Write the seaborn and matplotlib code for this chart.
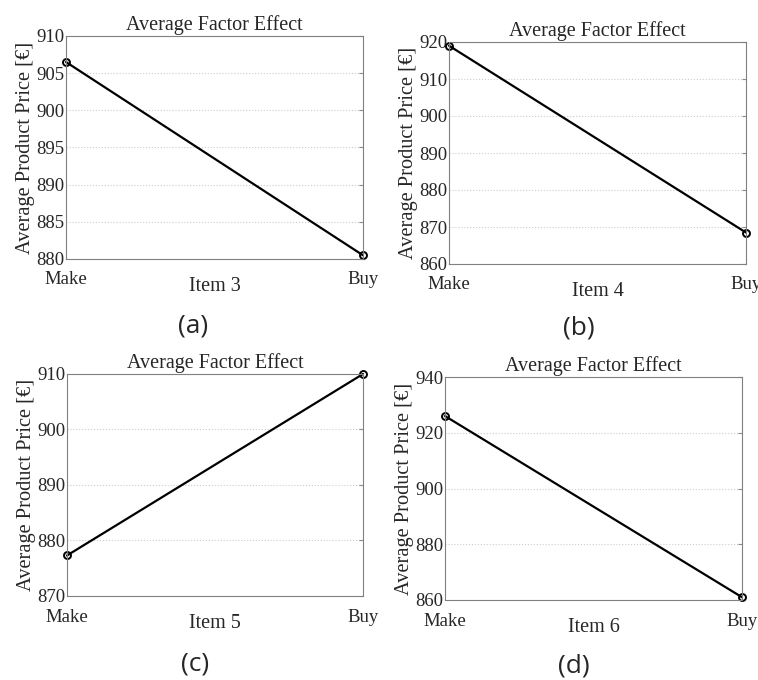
import numpy as np
import pandas as pd
import matplotlib
matplotlib.use("Agg")
import matplotlib.pyplot as plt
import seaborn as sns

#%% data
levels = ["Make", "Buy"]
items = ["Item 3", "Item 4", "Item 5", "Item 6"]
price_item3 = [906.5, 880.5]
price_item4 = [919.0, 868.5]
price_item5 = [877.3, 910.0]
price_item6 = [926.0, 861.0]
ylims = [(880, 910), (860, 920), (870, 910), (860, 940)]
yticks = [np.arange(880, 911, 5), np.arange(860, 921, 10),
          np.arange(870, 911, 10), np.arange(860, 941, 20)]
captions = ["(a)", "(b)", "(c)", "(d)"]

#%%
sns.set_style("white")
plt.rcParams['font.family'] = ['Liberation Serif', 'DejaVu Serif']

fig = plt.figure(figsize=(7.58, 6.8), dpi=100)

# axes boxes in pixels: left, top, right, bottom
boxes = [(66, 36, 363, 259), (449, 42, 746, 264),
         (67, 374, 363, 596), (445, 377, 742, 600)]
cap_pos = [(193, 326), (579, 328), (195, 664), (574, 666)]
series = [price_item3, price_item4, price_item5, price_item6]

for i in range(4):
    l, t, r, b = boxes[i]
    ax = fig.add_axes([l / 758, 1 - b / 680, (r - l) / 758, (b - t) / 680])
    df = pd.DataFrame({"x": [1, 2], "price": series[i]})
    sns.lineplot(data=df, x="x", y="price", ax=ax, color="black", lw=1.6,
                 marker="o", markersize=5, markerfacecolor="none",
                 markeredgecolor="black", markeredgewidth=1.4, clip_on=False)
    ax.set_xlim(1, 2)
    ax.set_ylim(*ylims[i])
    ax.set_xticks([1, 2])
    ax.set_xticklabels(levels, fontsize=13.5)
    ax.set_yticks(yticks[i])
    ax.tick_params(axis="y", labelsize=13.5, direction="in", length=3,
                   color="0.55", right=True, pad=1)
    ax.tick_params(axis="x", direction="in", length=0, pad=9)
    ax.grid(axis="y", linestyle=":", color="0.8", lw=0.8)
    for s in ax.spines.values():
        s.set_color("0.5")
        s.set_linewidth(0.8)
    ax.set_title("Average Factor Effect", fontsize=14.5, pad=4)
    ax.set_xlabel(items[i], fontsize=14.5, labelpad=-8)
    ax.set_ylabel("Average Product Price [€]", fontsize=14.7, labelpad=1)
    cx, cy = cap_pos[i]
    fig.text(cx / 758, 1 - cy / 680, captions[i], fontsize=19,
             family=['Open Sans', 'DejaVu Sans'], ha="center", va="center")

fig.savefig("out.png", dpi=100)
